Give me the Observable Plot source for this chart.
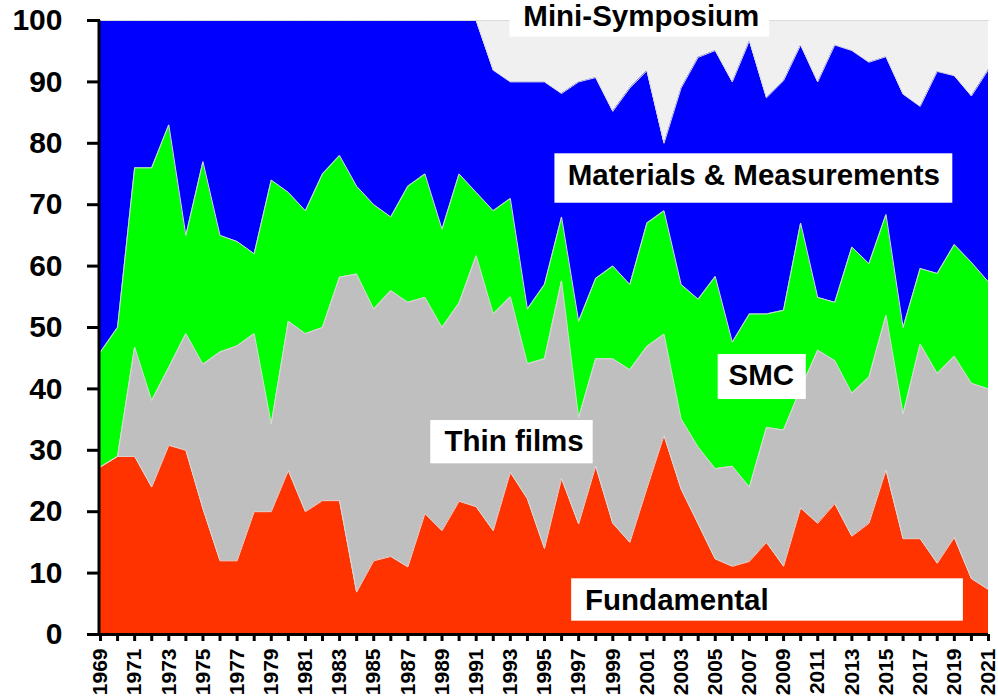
<!DOCTYPE html>
<html><head><meta charset="utf-8">
<script src="https://cdn.jsdelivr.net/npm/d3@7"></script>
<script src="https://cdn.jsdelivr.net/npm/@observablehq/plot@0.6"></script>
<style>
body{margin:0;background:#fff;}
#chart{width:998px;height:700px;}
</style>
</head><body><div id="chart"></div>
<script>
const years = [1969,1970,1971,1972,1973,1974,1975,1976,1977,1978,
  1979,1980,1981,1982,1983,1984,1985,1986,1987,1988,
  1989,1990,1991,1992,1993,1994,1995,1996,1997,1998,
  1999,2000,2001,2002,2003,2004,2005,2006,2007,2008,
  2009,2010,2011,2012,2013,2014,2015,2016,2017,2018,
  2019,2020,2021];

const fundamental = [27.3,29,29,24,30.8,30,20.5,12,12,20,
  20,26.7,20,21.8,21.8,6.9,12,12.7,11,19.7,
  16.9,21.7,20.8,16.9,26.4,22.1,14,25.4,18,27.4,
  18.1,15,23.8,32.4,23.7,18,12.3,11.1,11.9,15,
  11.1,20.6,18.1,21.3,16,18.1,26.8,15.6,15.6,11.6,
  15.8,9.1,7.3];

const thinFilms = [0,0,17.8,14.1,12.7,19,23.5,34,35,29,
  14.3,24.3,29,28.2,36.4,51.8,41,43.3,43.1,35.2,
  33.1,32.3,40.9,35.3,28.6,22,30.9,32.2,17.3,17.5,
  26.8,28.1,23.1,16.5,11.4,12.5,14.7,16.3,12.1,18.7,
  22.2,19.4,28.2,23.3,23.3,23.8,25.2,20.3,31.7,30.9,
  29.5,31.8,32.7];

const smc = [18.7,21,29.2,37.9,39.5,16,33,19,17,13,
  39.7,21,20,25,19.8,14.3,17,12,18.9,20.1,
  16,21,10.3,16.8,16,8.9,12.1,10.4,15.7,13.1,
  15.1,13.9,20.1,20.1,21.9,24.1,31.3,20.2,28.2,18.5,
  19.5,27,8.6,9.5,23.8,18.5,16.4,14.1,12.3,16.3,
  18.2,19.7,17.4];

const materials = [54,50,24,24,17,35,23,35,36,38,
  26,28,31,25,22,27,30,32,27,25,
  34,25,28,22.9,19,37,33,20.1,39,32.7,
  25.2,32,24.8,11,32,39.4,36.8,42.4,44.5,35.2,
  37.4,29,35.1,41.9,32,32.8,25.7,38,26.4,32.9,
  27.5,27.1,34.6];

const miniSymposium = [0,0,0,0,0,0,0,0,0,0,
  0,0,0,0,0,0,0,0,0,0,
  0,0,0,8.1,10,10,10,11.9,10,9.3,
  14.8,11,8.2,20,11,6,4.9,10,3.3,12.6,
  9.8,4,10,4,4.9,6.8,5.9,12,14,8.3,
  9,12.3,8];

const seriesNames = ["Fundamental","Thin films","SMC","Materials & Measurements","Mini-Symposium"];
const seriesColors = ["#FF3300","#BFBFBF","#00FF00","#0000FF","#F0F0F0"];
const yTicks = [0,10,20,30,40,50,60,70,80,90,100];

// label boxes (in data units)
const annotations = [
  {label: "Mini-Symposium", x: 2000.67, y: 100.6, x1: 1992.98, x2: 2008.19, y1: 97.28, y2: 103.3},
  {label: "Materials & Measurements", x: 2007.26, y: 74.8, x1: 1995.61, x2: 2018.91, y1: 70.24, y2: 78.29},
  {label: "SMC", x: 2007.7, y: 42.2, x1: 2005.17, x2: 2010.33, y1: 38.27, y2: 45.6},
  {label: "Thin films", x: 1993.22, y: 31.4, x1: 1988.34, x2: 1997.85, y1: 27.8, y2: 34.85},
  {label: "Fundamental", x: 2002.75, y: 5.5, x1: 1996.59, x2: 2019.53, y1: 2.17, y2: 9.07}
];

const seriesValues = [fundamental, thinFilms, smc, materials, miniSymposium];
const data = seriesNames.flatMap((name, i) => years.map((year, j) => ({year, series: name, value: seriesValues[i][j]})));

const chart = Plot.plot({
  width: 998, height: 700,
  marginLeft: 100, marginRight: 10, marginTop: 20, marginBottom: 66,
  style: {fontFamily: "'Liberation Sans', Arial, sans-serif", fontWeight: "bold", background: "#fff", color: "#000"},
  x: {domain: [1969, 2021], label: null},
  y: {domain: [0, 100], label: null},
  color: {domain: seriesNames, range: seriesColors},
  marks: [
    Plot.areaY(data, {x: "year", y: "value", z: "series", fill: "series", order: seriesNames}),
    Plot.lineY(data, Plot.stackY2({x: "year", y: "value", z: "series", order: seriesNames, stroke: "#dadada", strokeWidth: 1})),
    Plot.axisY({ticks: yTicks, tickSize: 13, tickPadding: 25, fontSize: 30, strokeWidth: 3, tickFormat: d => String(d), label: null}),
    Plot.axisX({ticks: years, tickSize: 7, tickPadding: 7, tickRotate: -90, fontSize: 21, strokeWidth: 3, tickFormat: d => d % 2 ? String(d) : "", label: null}),
    Plot.ruleX([1969], {dx: -1.5, strokeWidth: 3, stroke: "#000"}),
    Plot.ruleY([0], {strokeWidth: 3, stroke: "#000"}),
    Plot.rect(annotations, {x1: "x1", x2: "x2", y1: "y1", y2: "y2", fill: "white"}),
    Plot.text(annotations, {x: "x", y: "y", text: "label", fontSize: 29.5, fontWeight: "bold", fill: "black"})
  ]
});
document.getElementById("chart").append(chart);
</script>
</body></html>
